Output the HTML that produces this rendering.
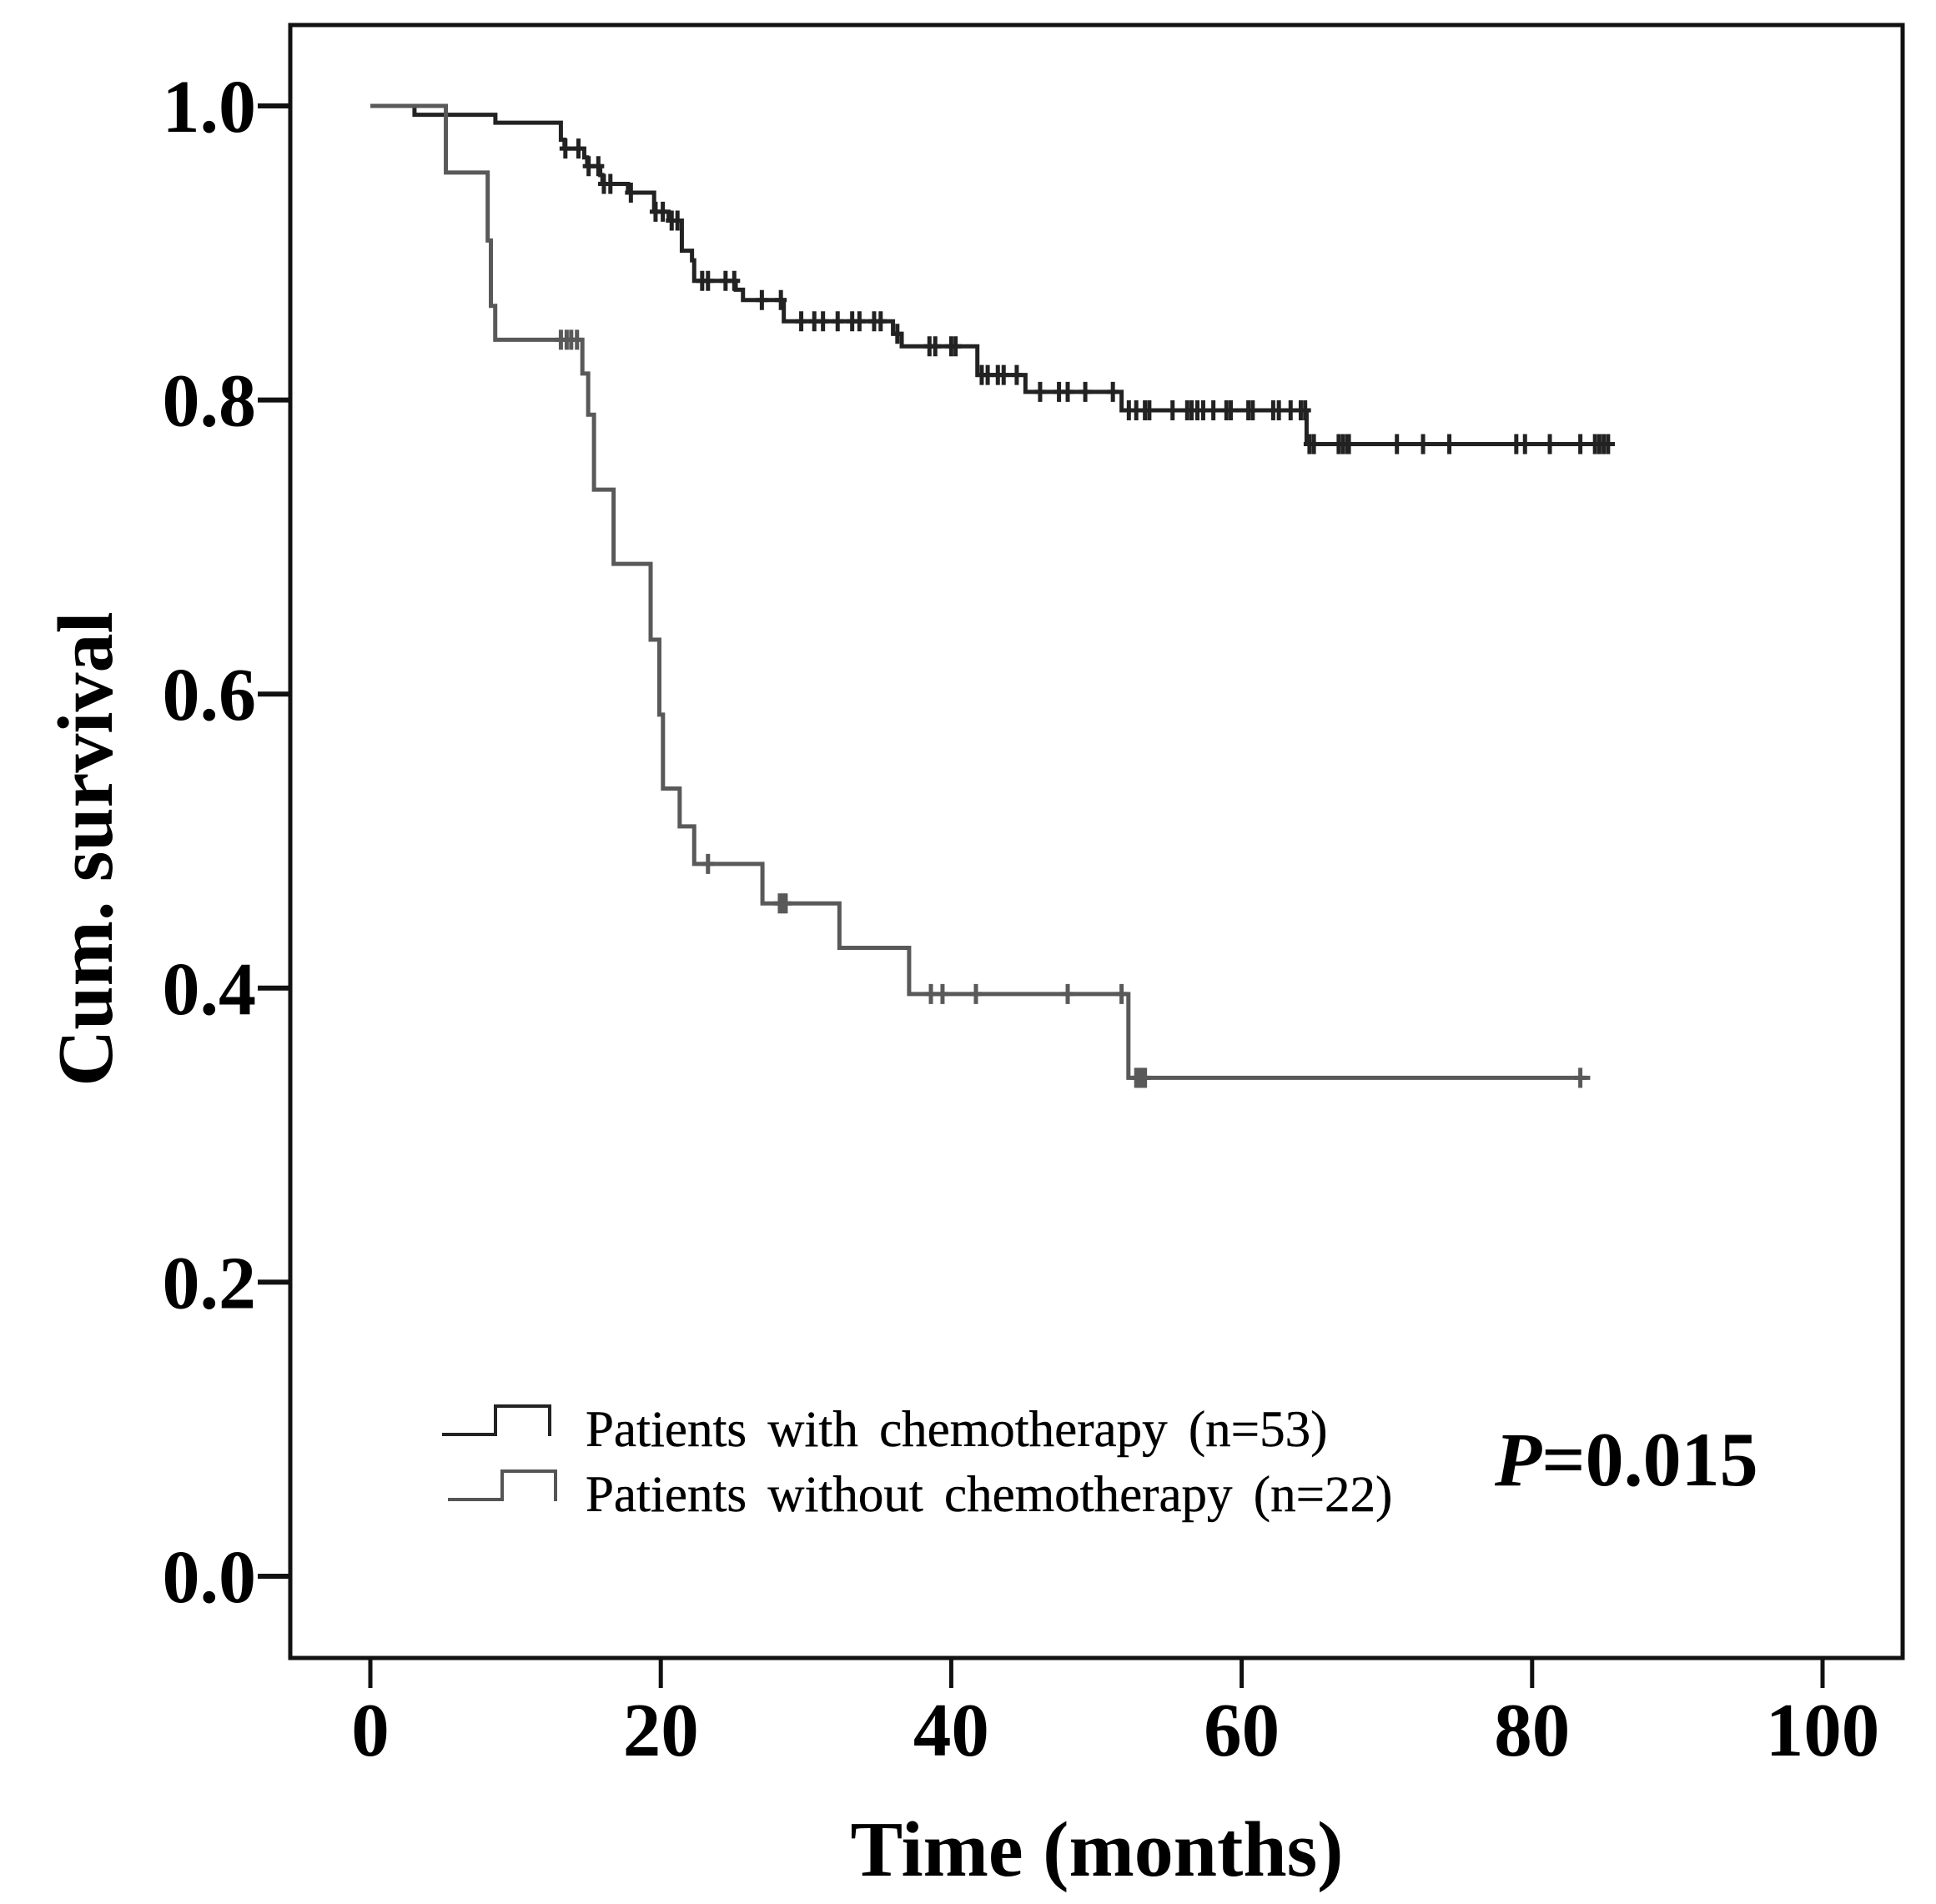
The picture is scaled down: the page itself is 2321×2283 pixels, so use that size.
<!DOCTYPE html>
<html lang="en">
<head>
<meta charset="utf-8">
<title>Kaplan-Meier survival chart</title>
<style>
html,body{margin:0;padding:0;background:#fff;width:2321px;height:2283px;overflow:hidden}
svg{display:block;font-family:"Liberation Serif",serif}
</style>
</head>
<body>
<svg id="chart" xmlns="http://www.w3.org/2000/svg" width="2321" height="2283" viewBox="0 0 2321 2283">
  <rect x="0" y="0" width="2321" height="2283" fill="#ffffff"/>
  <rect x="348" y="30" width="1933" height="1958" fill="none" stroke="#111" stroke-width="5"/>
  <g id="axes"></g>
  <g id="series"></g>
  <text transform="translate(134,1018) rotate(-90)" text-anchor="middle" font-size="94" font-weight="bold" fill="#000">Cum. survival</text>
  <text x="1315" y="2249" text-anchor="middle" font-size="94" font-weight="bold" fill="#000">Time (months)</text>
  <path d="M530 1720H594V1686H659V1722" fill="none" stroke="#222" stroke-width="4"/>
  <text x="702" y="1734" font-size="61" word-spacing="10" fill="#000" stroke="#000" stroke-width="0.4">Patients with chemotherapy (n=53)</text>
  <path d="M537 1798H602V1764H666V1800" fill="none" stroke="#555" stroke-width="4"/>
  <text x="702" y="1812" font-size="61" word-spacing="10" fill="#000" stroke="#000" stroke-width="0.4">Patients without chemotherapy (n=22)</text>
  <text x="1792" y="1781" font-size="92" font-weight="bold" fill="#000"><tspan font-style="italic">P</tspan>=0.015</text>
</svg>
<script>
const xTickValues = [0, 20, 40, 60, 80, 100];
const yTickValues = [0, 0.2, 0.4, 0.6, 0.8, 1];
const yTickLabels = ["0.0", "0.2", "0.4", "0.6", "0.8", "1.0"];

const chemoTimes = [0, 3.04, 8.61, 13.12, 13.37, 14.73, 14.93, 15.83, 15.98, 17.74, 19.54, 20.54, 21.45, 22.15, 22.3, 25.16, 25.66, 28.47, 35.99, 36.59, 41.8, 45.11, 51.73, 64.47, 85.7];
const chemoSurvival = [1, 0.994, 0.9886, 0.977, 0.971, 0.965, 0.959, 0.953, 0.947, 0.941, 0.928, 0.922, 0.9015, 0.895, 0.881, 0.875, 0.868, 0.8535, 0.845, 0.8365, 0.817, 0.8055, 0.793, 0.77, 0.77];
const chemoCensored = [13.43, 14.33, 15.03, 15.7, 16.08, 16.53, 17.94, 19.64, 20.14, 20.75, 21.15, 22.85, 23.25, 24.46, 25.06, 26.96, 28.27, 29.67, 30.57, 31.17, 32.18, 33.18, 33.68, 34.69, 35.14, 36.29, 38.5, 38.9, 40, 40.3, 42.1, 42.51, 43.21, 43.61, 44.51, 46.12, 47.42, 48.02, 49.23, 51.13, 52.23, 52.74, 53.34, 53.64, 55.24, 56.25, 56.55, 56.95, 57.35, 58.05, 58.95, 59.25, 60.46, 60.76, 62.17, 62.56, 63.37, 64.07, 64.37, 64.67, 64.97, 66.68, 66.98, 67.28, 67.38, 70.69, 72.49, 74.3, 78.91, 79.51, 81.22, 83.32, 84.33, 84.63, 84.93, 85.23];

const noChemoTimes = [0, 5.2, 8.08, 8.3, 8.6, 14.6, 15, 15.4, 16.75, 19.3, 19.9, 20.15, 21.3, 22.3, 27, 32.3, 37.1, 52.2, 84];
const noChemoSurvival = [1, 0.9547, 0.9085, 0.864, 0.841, 0.818, 0.79, 0.739, 0.6885, 0.637, 0.586, 0.5357, 0.51, 0.4845, 0.4576, 0.4274, 0.396, 0.339, 0.339];
const noChemoCensored = [13.12, 13.52, 13.83, 14.23, 23.25, 28.2, 28.4, 28.6, 38.6, 39.4, 41.7, 48.02, 51.73, 52.74, 52.94, 53.14, 53.34, 83.32];

const NS = "http://www.w3.org/2000/svg";
function xScale(t) { return 444 + t * 17.41; }
function yScale(s) { return 1890 - s * 1763; }

function levelAt(times, survival, t) {
  let level = survival[0];
  for (let i = 0; i < times.length; i++) {
    if (times[i] <= t) level = survival[i];
  }
  return level;
}

function stepPath(times, survival) {
  let d = "M" + xScale(times[0]) + " " + yScale(survival[0]);
  for (let i = 1; i < times.length; i++) {
    d += "H" + xScale(times[i]) + "V" + yScale(survival[i]);
  }
  return d;
}

const axes = document.getElementById("axes");
const seriesGroup = document.getElementById("series");

xTickValues.forEach(function (v) {
  const tick = document.createElementNS(NS, "line");
  
  
  tick.setAttribute("x1", xScale(v));
  tick.setAttribute("x2", xScale(v));
  tick.setAttribute("y1", 1988);
  tick.setAttribute("y2", 2024);
  tick.setAttribute("stroke", "#111");
  tick.setAttribute("stroke-width", 5);
  axes.appendChild(tick);
  const label = document.createElementNS(NS, "text");
  
  
  label.setAttribute("x", xScale(v));
  label.setAttribute("y", 2105);
  label.setAttribute("text-anchor", "middle");
  label.setAttribute("font-size", 91);
  label.setAttribute("font-weight", "bold");
  label.textContent = String(v);
  axes.appendChild(label);
});

yTickValues.forEach(function (v, i) {
  const tick = document.createElementNS(NS, "line");
  
  
  tick.setAttribute("x1", 309);
  tick.setAttribute("x2", 348);
  tick.setAttribute("y1", yScale(v));
  tick.setAttribute("y2", yScale(v));
  tick.setAttribute("stroke", "#111");
  tick.setAttribute("stroke-width", 6);
  axes.appendChild(tick);
  const label = document.createElementNS(NS, "text");
  
  
  label.setAttribute("x", 307);
  label.setAttribute("y", yScale(v) + 31);
  label.setAttribute("text-anchor", "end");
  label.setAttribute("font-size", 90);
  label.setAttribute("font-weight", "bold");
  label.textContent = yTickLabels[i];
  axes.appendChild(label);
});

function drawSeries(times, survival, censored, color, lineName, censorName) {
  const line = document.createElementNS(NS, "path");
  
  
  line.setAttribute("d", stepPath(times, survival));
  line.setAttribute("fill", "none");
  line.setAttribute("stroke", color);
  line.setAttribute("stroke-width", 5);
  seriesGroup.appendChild(line);
  censored.forEach(function (t) {
    const x = xScale(t);
    const y = yScale(levelAt(times, survival, t));
    const mark = document.createElementNS(NS, "path");
    
    
    mark.setAttribute("d", "M" + x + " " + (y - 12) + "V" + (y + 12) + "M" + (x - 7) + " " + y + "H" + (x + 7));
    mark.setAttribute("fill", "none");
    mark.setAttribute("stroke", color);
    mark.setAttribute("stroke-width", 5);
    seriesGroup.appendChild(mark);
  });
}

drawSeries(chemoTimes, chemoSurvival, chemoCensored, "#222222", "chemotherapy-curve", "chemotherapy-censor-mark");
drawSeries(noChemoTimes, noChemoSurvival, noChemoCensored, "#595959", "no-chemotherapy-curve", "no-chemotherapy-censor-mark");
</script>
</body>
</html>
